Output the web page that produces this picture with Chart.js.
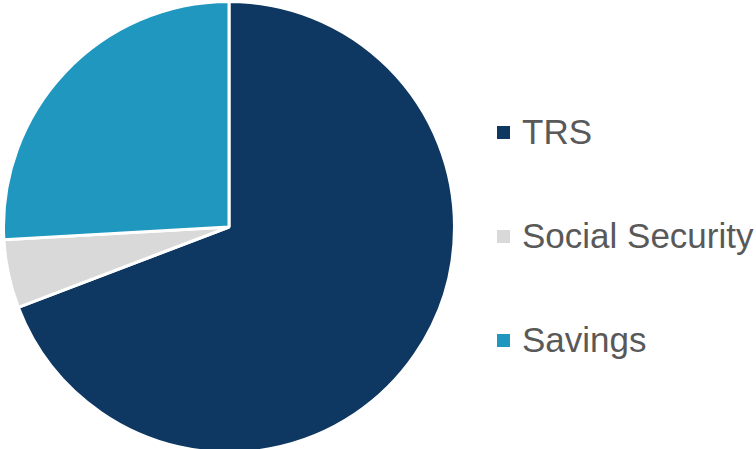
<!DOCTYPE html>
<html>
<head>
<meta charset="utf-8">
<script src="https://cdn.jsdelivr.net/npm/chart.js@4"></script>
<style>
  html, body { margin: 0; padding: 0; background: #fff; overflow: hidden; }
  body { width: 756px; height: 449px; position: relative; font-family: "Liberation Sans", Arial, sans-serif; }
  #pieWrap { position: absolute; left: 2px; top: 0; width: 454px; height: 454px; }
  #legend { position: absolute; left: 497px; top: 80px; }
  .legend-item { display: flex; align-items: center; height: 104px; font-size: 35px; color: #595959; white-space: nowrap; }
  .legend-box { width: 13px; height: 13px; margin-right: 12px; flex: none; }
</style>
</head>
<body>
<div id="pieWrap"><canvas id="pieChart"></canvas></div>
<div id="legend"></div>
<script>
const labels = ['TRS', 'Social Security', 'Savings'];
const shares = [69.2, 4.9, 25.9];
const colors = ['#0E3761', '#D9D9D9', '#1F97BF'];

const pieChart = new Chart(document.getElementById('pieChart'), {
    type: 'pie',
    data: {
        labels: labels,
        datasets: [{
            data: shares,
            backgroundColor: colors,
            borderColor: '#ffffff',
            borderWidth: 3,
            hoverBorderWidth: 3
        }]
    },
    options: {
        responsive: true,
        maintainAspectRatio: false,
        animation: false,
        layout: { padding: 0 },
        plugins: {
            legend: { display: false },
            tooltip: { enabled: false }
        }
    }
});

// legend on the right, built from the chart's own labels
const legendEl = document.getElementById('legend');
pieChart.data.labels.forEach((label, i) => {
    const item = document.createElement('div');
    item.className = 'legend-item';
    const box = document.createElement('span');
    box.className = 'legend-box';
    box.style.background = pieChart.data.datasets[0].backgroundColor[i];
    item.appendChild(box);
    item.appendChild(document.createTextNode(label));
    legendEl.appendChild(item);
});
</script>
</body>
</html>
